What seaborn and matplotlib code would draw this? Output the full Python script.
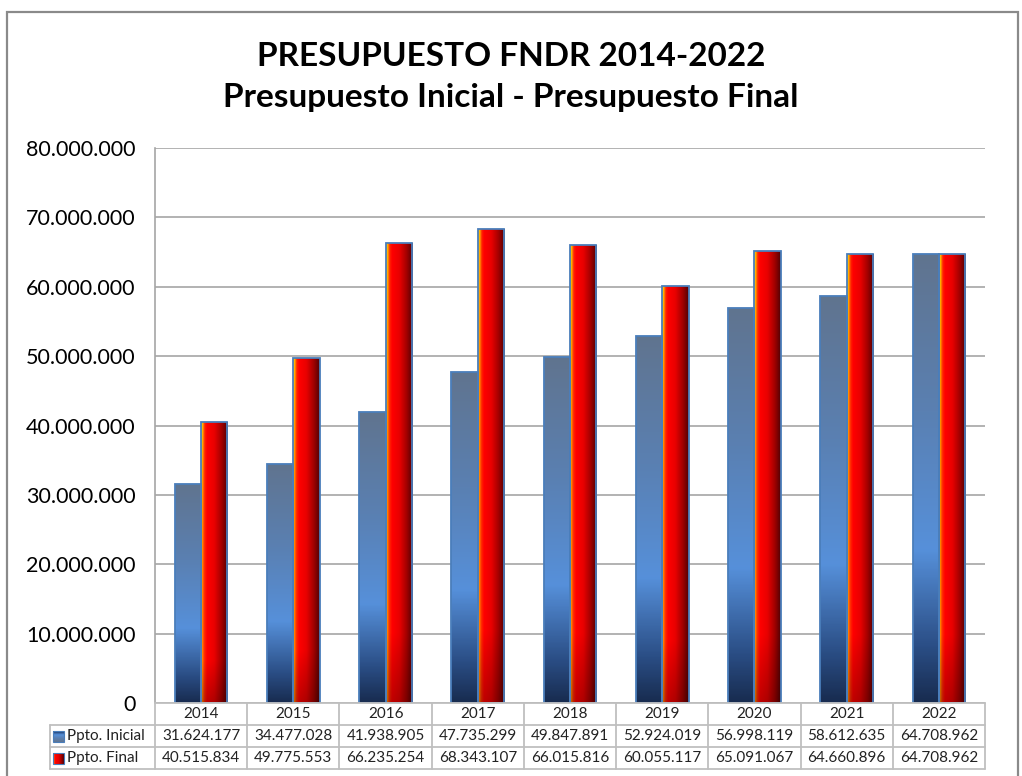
import numpy as np
import pandas as pd
import matplotlib
matplotlib.use("Agg")
import matplotlib.pyplot as plt
import seaborn as sns
from matplotlib.colors import LinearSegmentedColormap, to_rgb
from matplotlib.patches import Rectangle

# ---------------- data ----------------
years = ["2014", "2015", "2016", "2017", "2018", "2019", "2020", "2021", "2022"]
inicial = [31624177, 34477028, 41938905, 47735299, 49847891, 52924019, 56998119, 58612635, 64708962]
final = [40515834, 49775553, 66235254, 68343107, 66015816, 60055117, 65091067, 64660896, 64708962]
series_names = ["Ppto. Inicial", "Ppto. Final"]
yticks = [0, 10000000, 20000000, 30000000, 40000000, 50000000, 60000000, 70000000, 80000000]
title_lines = ["PRESUPUESTO FNDR 2014-2022", "Presupuesto Inicial - Presupuesto Final"]


def fmt(v):
    return f"{v:,}".replace(",", ".")


sns.set_theme(style="white")
plt.rcParams['font.family'] = ['Lato', 'DejaVu Sans']

W, H = 1022, 776
fig = plt.figure(figsize=(W / 100, H / 100), dpi=100)
fig.patch.set_facecolor("white")


def px(x0, y0, x1, y1):
    return [x0 / W, 1 - y1 / H, (x1 - x0) / W, (y1 - y0) / H]


# outer chart frame
fig.patches.append(Rectangle((7 / W, -0.1), (1018 - 7) / W, 1.1 - 12 / H,
                             transform=fig.transFigure, fill=False,
                             edgecolor="#8a8a8a", lw=1.6, zorder=0))

# titles
fig.text(0.5, 1 - 56 / H, title_lines[0], ha="center", va="center",
         fontsize=24, fontweight="bold", color="black")
fig.text(0.5, 1 - 98 / H, title_lines[1], ha="center", va="center",
         fontsize=24, fontweight="bold", color="black")

# ---------------- main axes ----------------
ax = fig.add_axes(px(155, 148, 985, 703))
df = pd.DataFrame({
    "Año": years * 2,
    "Valor": inicial + final,
    "Serie": [series_names[0]] * len(years) + [series_names[1]] * len(years),
})
pal = {series_names[0]: "#4f81bd", series_names[1]: "#c00000"}
sns.barplot(data=df, x="Año", y="Valor", hue="Serie", hue_order=series_names,
            palette=pal, ax=ax, width=0.57, saturation=1, legend=False,
            edgecolor="#4a7ebb", linewidth=1.3, errorbar=None)

ax.set_ylim(0, 80000000)
ax.set_xlim(-0.5, len(years) - 0.5)
ax.set_yticks(yticks)
ax.set_yticklabels([fmt(v) for v in yticks], fontsize=15.5, color="black")
ax.tick_params(axis="y", length=0, pad=14)
ax.set_xticks([])
ax.set_xlabel("")
ax.set_ylabel("")
ax.yaxis.grid(True, color="#a6a6a6", lw=1.2)
ax.set_axisbelow(True)
for s in ["top", "right", "bottom"]:
    ax.spines[s].set_visible(False)
ax.spines["left"].set_color("#a6a6a6")
ax.spines["left"].set_linewidth(1.2)
ax.set_facecolor("none")

# gradients
blue_cmap = LinearSegmentedColormap.from_list("blue", [
    (0.0, "#182c50"), (0.12, "#2a4d84"), (0.34, "#5690da"),
    (0.65, "#5a80b2"), (1.0, "#60748f")])
red_cmap = LinearSegmentedColormap.from_list("red", [
    (0.0, "#ff9a00"), (0.1, "#ff3000"), (0.22, "#ff0000"),
    (0.5, "#e80000"), (0.78, "#a00000"), (1.0, "#520004")])

ny, nx = 200, 60
yy = np.linspace(0, 1, ny)[:, None]  # 0 bottom -> 1 top (origin lower)
xx = np.linspace(0, 1, nx)[None, :]
blue_img = blue_cmap(np.repeat(yy, nx, axis=1))
red_base = red_cmap(np.repeat(xx, ny, axis=0))
# yellow glow on the left edge near the top
w = np.clip(1 - xx / 0.14, 0, 1) * (0.25 + 0.75 * yy ** 3)
yellow = np.array(to_rgb("#ffe000") + (1,))
red_img = red_base * (1 - w[..., None]) + yellow * w[..., None]
# slight darkening at the bottom
dark = (1 - 0.25 * np.clip(1 - yy / 0.15, 0, 1))[..., None]
red_img[..., :3] *= dark

blue_ref = np.array(to_rgb("#4f81bd"))
for p in list(ax.patches):
    x0, y0 = p.get_x(), p.get_y()
    wdt, hgt = p.get_width(), p.get_height()
    if hgt <= 0:
        continue
    is_blue = np.allclose(p.get_facecolor()[:3], blue_ref, atol=0.02)
    img = blue_img if is_blue else red_img
    im = ax.imshow(img, extent=(x0, x0 + wdt, y0, y0 + hgt), origin="lower",
                   aspect="auto", zorder=2, interpolation="bilinear")
    im.set_clip_path(p)
    p.set_facecolor("none")
    p.set_zorder(3)

ax.set_xlim(-0.5, len(years) - 0.5)
ax.set_ylim(0, 80000000)

# ---------------- data table ----------------
tax = fig.add_axes(px(155, 703, 985, 769))
tax.set_xlim(-0.5, len(years) - 0.5)
tax.set_ylim(3, 0)
tax.axis("off")
unit = len(years) / 830.0
label_left = -0.5 - 105 * unit
gc = "#bfbfbf"
tax.plot([-0.5, len(years) - 0.5], [0, 0], color=gc, lw=1.3, clip_on=False)
for yv in [1, 2, 3]:
    tax.plot([label_left, len(years) - 0.5], [yv, yv], color=gc, lw=1.3, clip_on=False)
for k in range(len(years) + 1):
    tax.plot([k - 0.5, k - 0.5], [0, 3], color=gc, lw=1.3, clip_on=False)
tax.plot([label_left, label_left], [1, 3], color=gc, lw=1.3, clip_on=False)

fs = 11
for i, yr in enumerate(years):
    tax.text(i, 0.5, yr, ha="center", va="center", fontsize=fs, color="#222222")
    tax.text(i, 1.5, fmt(inicial[i]), ha="center", va="center", fontsize=fs, color="#222222")
    tax.text(i, 2.5, fmt(final[i]), ha="center", va="center", fontsize=fs, color="#222222")

sq_x = label_left + 3 * unit
sq_w = 11 * unit
sq_h = 0.5
for r, (name, img) in enumerate(zip(series_names, [blue_img, red_img])):
    yc = 1.5 + r
    tax.imshow(img, extent=(sq_x, sq_x + sq_w, yc + sq_h / 2, yc - sq_h / 2), origin="upper",
               aspect="auto", zorder=2, clip_on=False)
    tax.add_patch(Rectangle((sq_x, yc - sq_h / 2), sq_w, sq_h, fill=False,
                            edgecolor="#4a7ebb", lw=0.8, clip_on=False, zorder=3))
    tax.text(sq_x + sq_w + 3 * unit, yc, name, ha="left", va="center",
             fontsize=fs, color="#222222", clip_on=False)
tax.set_xlim(-0.5, len(years) - 0.5)
tax.set_ylim(3, 0)

fig.savefig("out.png", dpi=100, facecolor="white")
